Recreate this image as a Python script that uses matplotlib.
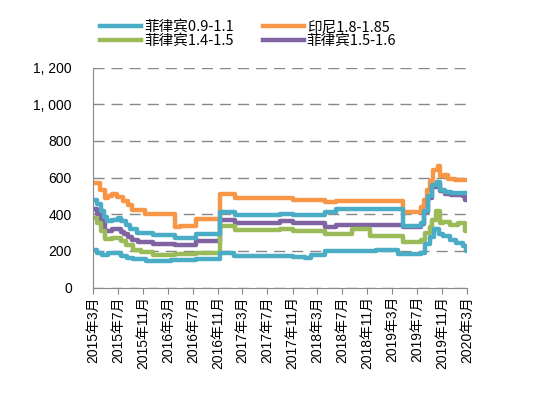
import pandas as pd
import matplotlib.pyplot as plt
import matplotlib.dates as mdates
from matplotlib.ticker import FixedLocator

plt.rcParams['font.family'] = ['Liberation Sans', 'Noto Sans CJK SC', 'DejaVu Sans']

# 印尼1.8-1.85
id_dates = ["2015-03-01", "2015-04-04", "2015-04-28", "2015-05-15", "2015-06-01", "2015-06-25",
            "2015-07-28", "2015-08-18", "2015-09-06", "2015-11-12", "2016-04-06", "2016-05-01",
            "2016-07-18", "2016-11-09", "2017-01-24", "2017-11-03", "2018-04-06", "2018-06-03",
            "2019-04-24", "2019-07-21", "2019-08-06", "2019-08-21", "2019-09-03", "2019-09-18",
            "2019-10-12", "2019-10-24", "2019-11-12", "2019-12-01", "2020-01-01", "2020-03-01"]
id_vals = [570, 530, 490, 500, 510, 495, 470, 450, 425, 400, 330, 335, 375, 510, 490, 480, 465, 475,
           410, 440, 480, 530, 580, 640, 665, 610, 615, 595, 585, 585]

# upper teal line (no legend entry in the reference)
ph_hi_dates = ["2015-03-01", "2015-03-19", "2015-04-10", "2015-04-25", "2015-05-08", "2015-06-01",
               "2015-07-01", "2015-07-15", "2015-08-10", "2015-09-01", "2015-10-05", "2015-12-18",
               "2016-04-06", "2016-07-18", "2016-11-09", "2017-01-24", "2017-09-01", "2017-11-03",
               "2018-04-06", "2018-06-03", "2019-04-24", "2019-07-21", "2019-08-06", "2019-08-25",
               "2019-09-15", "2019-10-05", "2019-10-20", "2019-11-15", "2019-12-15", "2020-03-01"]
ph_hi_vals = [480, 455, 420, 385, 365, 370, 380, 365, 340, 320, 300, 285, 270, 290, 410, 395, 400, 395,
              415, 430, 335, 350, 420, 500, 560, 575, 535, 520, 515, 515]

# 菲律宾1.5-1.6
ph15_dates = ["2015-03-01", "2015-03-19", "2015-04-10", "2015-04-28", "2015-06-01", "2015-07-15",
              "2015-08-01", "2015-08-20", "2015-09-10", "2015-10-08", "2015-12-18", "2016-04-06",
              "2016-07-18", "2016-11-09", "2017-01-24", "2017-09-01", "2017-11-03", "2018-04-06",
              "2018-06-03", "2019-04-24", "2019-07-21", "2019-08-06", "2019-08-25", "2019-09-15",
              "2019-10-05", "2019-10-20", "2019-11-15", "2019-12-15", "2020-02-10", "2020-02-20",
              "2020-03-01"]
ph15_vals = [430, 400, 365, 310, 320, 305, 295, 275, 260, 250, 240, 230, 255, 370, 355, 365, 355, 330,
             340, 330, 345, 410, 490, 550, 565, 525, 510, 505, 500, 480, 480]

# 菲律宾1.4-1.5
ph14_dates = ["2015-03-01", "2015-03-19", "2015-04-10", "2015-04-28", "2015-06-01", "2015-07-15",
              "2015-08-10", "2015-09-15", "2015-10-20", "2015-12-18", "2016-04-06", "2016-07-18",
              "2016-11-09", "2017-01-24", "2017-09-01", "2017-11-03", "2018-04-06", "2018-08-20",
              "2018-11-12", "2019-04-24", "2019-07-21", "2019-08-10", "2019-09-01", "2019-09-15",
              "2019-10-01", "2019-10-20", "2019-11-05", "2019-12-10", "2020-01-20", "2020-02-15",
              "2020-02-22", "2020-03-01"]
ph14_vals = [380, 350, 310, 265, 270, 255, 230, 205, 195, 178, 182, 188, 335, 312, 320, 310, 290, 320,
             283, 250, 260, 300, 330, 370, 420, 355, 360, 340, 350, 355, 310, 310]

# 菲律宾0.9-1.1
ph09_dates = ["2015-03-01", "2015-03-19", "2015-04-15", "2015-05-15", "2015-06-15", "2015-07-15",
              "2015-08-15", "2015-09-15", "2015-11-18", "2016-03-15", "2016-07-18", "2016-11-09",
              "2017-01-20", "2017-11-03", "2018-01-01", "2018-02-01", "2018-04-06", "2018-12-12",
              "2019-04-01", "2019-07-21", "2019-08-10", "2019-09-05", "2019-09-25", "2019-10-15",
              "2019-11-05", "2019-12-10", "2020-01-10", "2020-02-10", "2020-02-25", "2020-03-01"]
ph09_vals = [205, 190, 178, 188, 190, 170, 160, 155, 143, 150, 155, 188, 175, 166, 162, 180, 198, 208,
             185, 190, 240, 275, 320, 290, 280, 260, 242, 228, 200, 200]

tick_dates = pd.date_range("2015-03-01", "2020-03-01", freq="4MS")
tick_labels = [f"{d.year}年{d.month}月" for d in tick_dates]
y_ticks = [0, 200, 400, 600, 800, 1000, 1200]
y_labels = ["0", "200", "400", "600", "800", "1, 000", "1, 200"]

fig = plt.figure(figsize=(5.46, 3.93), dpi=100)
ax = fig.add_axes([0.170, 0.268, 0.685, 0.560])

lw = 3.2
l_id, = ax.plot(pd.to_datetime(id_dates), id_vals, drawstyle="steps-post", color="#F79646", lw=lw)
l15, = ax.plot(pd.to_datetime(ph15_dates), ph15_vals, drawstyle="steps-post", color="#8064A2", lw=lw)
l14, = ax.plot(pd.to_datetime(ph14_dates), ph14_vals, drawstyle="steps-post", color="#9BBB59", lw=lw)
ax.plot(pd.to_datetime(ph_hi_dates), ph_hi_vals, drawstyle="steps-post", color="#4BACC6", lw=lw)
l09, = ax.plot(pd.to_datetime(ph09_dates), ph09_vals, drawstyle="steps-post", color="#4BACC6", lw=lw)

ax.set_xlim(tick_dates[0], tick_dates[-1])
ax.set_ylim(0, 1200)
ax.xaxis.set_major_locator(FixedLocator(mdates.date2num(tick_dates)))
ax.set_xticklabels(tick_labels, rotation=90, fontsize=10)
ax.set_yticks(y_ticks)
ax.set_yticklabels(y_labels, fontsize=10)
ax.tick_params(axis="y", length=0, pad=15)
ax.tick_params(axis="x", length=4, color="#888888", pad=2)

for s in ["top", "right"]:
    ax.spines[s].set_visible(False)
for s in ["left", "bottom"]:
    ax.spines[s].set_color("#888888")
ax.yaxis.grid(True, color="#888888", linestyle=(0, (8, 5)), lw=1.0)
ax.set_axisbelow(True)

fig.legend([l09, l14, l_id, l15],
           ["菲律宾0.9-1.1", "菲律宾1.4-1.5", "印尼1.8-1.85", "菲律宾1.5-1.6"],
           ncol=2, loc="upper left", bbox_to_anchor=(0.165, 0.975), frameon=False,
           prop={"family": ["Noto Sans CJK SC", "DejaVu Sans"], "size": 10.5},
           handlelength=2.8, labelspacing=0.0, columnspacing=2.0, handletextpad=0.2,
           borderpad=0.2)

fig.savefig("out.png", dpi=100)
